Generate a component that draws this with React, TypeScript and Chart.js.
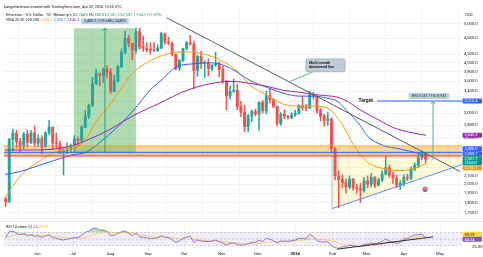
import React, { useEffect, useRef } from "react";
import { Chart, registerables } from "chart.js";
Chart.register(...registerables);

const FONT = "Roboto, 'Noto Sans', sans-serif";
const UP = "#26a69a";
const DOWN = "#ef5350";

// Day index counted from 2025-05-01; every candle spans three days.
const CANDLE_START_DAY = 4;
const CANDLE_SPAN = 3;
const FIRST_OPEN = 1840;
const CLOSES = [
  1810, 2580, 2680, 2550, 2490, 2660, 2540, 2680, 2530, 2600,
  2480, 2680, 2770, 2530, 2520, 2410, 2420, 2440, 2490, 2590,
  2570, 2770, 2950, 3140, 3550, 3760, 3720, 3850, 3800, 3400,
  3610, 3910, 4240, 4600, 4470, 4300, 4780, 4380, 4350, 4310,
  4300, 4290, 4350, 4720, 4500, 4470, 4200, 3880, 4050, 4340,
  4480, 4460, 3830, 4150, 3990, 3990, 3870, 3950, 3970, 3850,
  3600, 3310, 3400, 3420, 3120, 3020, 2780, 2950, 3030, 2990,
  3190, 3040, 3320, 3240, 3120, 2830, 2980, 2950, 2930, 2970,
  3000, 3130, 3100, 3090, 3340, 3300, 3050, 2950, 2880, 2900,
  2450, 2100, 2050, 2020, 1970, 2060, 1960, 1950, 1930, 2040,
  2000, 2080, 1990, 2050, 2120, 2200, 2110, 2070, 1990, 2010,
  2080, 2070, 2180, 2230, 2330, 2380, 2307.7,
];
const HIGHS = [
  1860, 2600, 2740, 2720, 2600, 2690, 2730, 2720, 2790, 2650,
  2640, 2700, 2880, 2770, 2680, 2560, 2450, 2530, 2520, 2640,
  2620, 2790, 3050, 3160, 3680, 3860, 3780, 3880, 3940, 3870,
  3730, 3950, 4330, 4790, 4680, 4480, 4870, 4880, 4660, 4490,
  4490, 4490, 4430, 4770, 4740, 4630, 4500, 4210, 4080, 4350,
  4520, 4680, 4530, 4180, 4270, 4050, 4090, 3960, 4250, 4020,
  3920, 3620, 3500, 3650, 3550, 3210, 3140, 2980, 3060, 3070,
  3200, 3230, 3400, 3450, 3260, 3130, 3010, 3060, 2960, 3010,
  3050, 3150, 3300, 3160, 3400, 3380, 3320, 3080, 2980, 3010,
  2920, 2470, 2160, 2110, 2060, 2100, 2070, 2000, 2010, 2080,
  2100, 2130, 2090, 2070, 2160, 2340, 2230, 2140, 2110, 2040,
  2110, 2120, 2210, 2260, 2380, 2420, 2400,
];
const LOWS = [
  1760, 1800, 2420, 2460, 2400, 2450, 2470, 2520, 2490, 2480,
  2380, 2470, 2650, 2440, 2460, 2380, 2110, 2380, 2400, 2400,
  2480, 2530, 2760, 2910, 3120, 3530, 3510, 3570, 3680, 3360,
  3390, 3580, 3900, 4200, 4380, 4070, 4220, 4320, 4270, 4250,
  4200, 4260, 4260, 4340, 4440, 4430, 4160, 3840, 3830, 4030,
  4300, 4420, 3450, 3700, 3870, 3680, 3710, 3820, 3920, 3690,
  3560, 3060, 3250, 3380, 3060, 2940, 2700, 2700, 2860, 2950,
  2720, 3000, 2990, 3180, 3090, 2790, 2800, 2910, 2900, 2910,
  2950, 2980, 3050, 3040, 3080, 3250, 3000, 2870, 2790, 2800,
  2400, 2050, 1750, 1960, 1900, 1950, 1930, 1900, 1800, 1910,
  1960, 1970, 1960, 1980, 2030, 2110, 2080, 2010, 1960, 1940,
  1980, 2040, 2050, 2160, 2200, 2300, 2260,
];
const RSI_VALUES = [
  55, 72, 75, 68, 63, 66, 60, 63, 58, 60,
  55, 60, 63, 54, 53, 49, 47, 50, 52, 55,
  54, 62, 70, 75, 82, 84, 78, 77, 74, 60,
  62, 67, 72, 75, 68, 60, 68, 57, 56, 53,
  52, 52, 54, 60, 56, 55, 48, 40, 44, 52,
  56, 58, 40, 47, 44, 43, 42, 44, 47, 42,
  38, 32, 37, 38, 34, 31, 33, 36, 40, 40,
  46, 43, 52, 50, 45, 38, 44, 44, 43, 45,
  47, 52, 52, 51, 64, 58, 45, 42, 41, 42,
  30, 24, 22, 27, 26, 32, 29, 28, 27, 35,
  34, 39, 35, 38, 43, 50, 44, 41, 37, 39,
  50, 52, 58, 62, 64, 65, 54.24,
];
const RSI_SMA = [
  55, 58, 62, 64, 65, 66, 65, 64, 63, 62,
  61, 61, 60, 59, 58, 56, 54, 53, 52, 52,
  52, 53, 55, 58, 62, 66, 69, 71, 72, 71,
  70, 70, 70, 70, 69, 67, 66, 64, 62, 60,
  58, 57, 56, 56, 55, 55, 54, 52, 51, 50,
  50, 51, 49, 48, 47, 46, 45, 45, 45, 44,
  43, 41, 40, 39, 38, 37, 36, 36, 36, 36,
  37, 38, 40, 41, 42, 42, 42, 43, 43, 44,
  45, 46, 47, 48, 50, 51, 50, 49, 48, 47,
  45, 42, 38, 35, 33, 31, 29, 28, 27, 28,
  29, 30, 31, 33, 35, 37, 39, 40, 42, 44,
  47, 49, 52, 55, 57, 58.5, 59.29,
];

// Moving averages, read at sample days
const SMA_ORANGE_DAYS = [4.5, 16.9, 33.5, 45.9, 58.3, 66.6, 72.4, 80.7, 91.5, 99.8, 110.6, 124.6, 138.7, 147, 157.8, 166.1, 176.9, 188.5, 199.2, 207.5, 221.6, 234.9, 248.9, 259.7, 271.3, 278, 284.6, 292.9, 304.5, 317.8, 331.8, 345.9, 353.5];
const SMA_ORANGE = [1850, 2092, 2287, 2405, 2446, 2501, 2616, 2876, 3145, 3420, 3782, 4044, 4205, 4252, 4252, 4229, 4135, 3977, 3761, 3516, 3326, 3162, 3127, 3127, 3092, 2974, 2797, 2515, 2274, 2187, 2163, 2200, 2250.1];
const SMA_BLUE_DAYS = [4.5, 16.9, 41.8, 60.8, 72.4, 83.2, 97.3, 110.6, 124.6, 132.9, 147, 160.3, 176.9, 193.4, 207.5, 221.6, 234.9, 248.9, 259.7, 271.3, 279.6, 287.9, 298.7, 304.5, 317.8, 331.8, 345.9, 353.5];
const SMA_BLUE = [2115, 2151, 2274, 2365, 2405, 2543, 2766, 3041, 3420, 3596, 3911, 3977, 3999, 3846, 3616, 3477, 3363, 3307, 3307, 3270, 3216, 3041, 2800, 2640, 2497, 2446, 2392, 2350.7];
const SMA_PURPLE_DAYS = [4.5, 27.7, 55.9, 72.4, 91.5, 110.6, 132.9, 155.3, 180.2, 193.4, 207.5, 221.6, 234.9, 248.9, 265.5, 279.6, 287.9, 298.7, 315.3, 326, 340.1, 353.5];
const SMA_PURPLE = [2432, 2432, 2473, 2572, 2735, 2957, 3180, 3420, 3576, 3596, 3556, 3497, 3420, 3381, 3326, 3289, 3216, 3058, 2876, 2766, 2690, 2645.3];

const MONTH_DAYS = [31, 61, 92, 123, 153, 184, 214, 245, 276, 304, 335, 365];
const MONTH_LABELS = ["Jun", "Jul", "Aug", "Sep", "Oct", "Nov", "Dec", "2026", "Feb", "Mar", "Apr", "May"];
const PRICE_TICKS = [1700, 1800, 1900, 2000, 2100, 2200, 2400, 2600, 2800, 3000, 3200, 3400, 3600, 3800, 4000, 4200, 4600, 5000];
const RSI_TICKS = [25];

const X_MIN = 3.65;
const X_MAX = 383.2;
const Y_MIN = 1664;
const Y_MAX = 5407;
const RSI_MIN = 16.7;
const RSI_MAX = 91.3;

// Drawings
const ZONE_TOP = 2490;
const ZONE_BOTTOM = 2350;
const SUPPORT = 2400;
const TRI_START = 275.5;
const TRI_LOW = 1740;
const TRI_END_VALUE = 2237;
const RALLY_START = 61.7;
const RALLY_END = 113;
const RALLY_ARROW = 87.3;
const RALLY_LOW = 2392;
const RALLY_HIGH = 4872;
const DOWN_START: [number, number] = [138.7, 5170];
const DOWN_END: [number, number] = [381.6, 2151];
const TARGET = 3216.4;
const TARGET_FROM = 312.8;
const TARGET_ARROW = 359.2;
const TARGET_BASE = 2300;
const CALLOUT_BOX = [253.9, 286.3, 4089, 3802];
const CALLOUT_TAIL: [number, number, number] = [259.7, 240.7, 3596];
const ICON_POS: [number, number] = [352.6, 1945];
const RSI_LINE_START: [number, number] = [279.6, 19.3];
const RSI_LINE_END: [number, number] = [359.2, 56.7];

const fmt = (v: number, d = 1) =>
  v.toLocaleString("en-US", { minimumFractionDigits: d, maximumFractionDigits: d });

function roundRect(ctx: any, x: number, y: number, w: number, h: number, r: number) {
  ctx.beginPath();
  ctx.moveTo(x + r, y);
  ctx.lineTo(x + w - r, y);
  ctx.quadraticCurveTo(x + w, y, x + w, y + r);
  ctx.lineTo(x + w, y + h - r);
  ctx.quadraticCurveTo(x + w, y + h, x + w - r, y + h);
  ctx.lineTo(x + r, y + h);
  ctx.quadraticCurveTo(x, y + h, x, y + h - r);
  ctx.lineTo(x, y + r);
  ctx.quadraticCurveTo(x, y, x + r, y);
  ctx.closePath();
}

function spread(items: any[]) {
  items.sort((a, b) => a.y - b.y);
  for (let it = 0; it < 60; it++) {
    for (let i = 1; i < items.length; i++) {
      const p = items[i - 1], c = items[i];
      const need = p.h / 2 + c.h / 2;
      const gap = c.y - p.y;
      if (gap < need) {
        const d = (need - gap) / 2;
        p.y -= d;
        c.y += d;
      }
    }
  }
}

function drawAxisLabels(ctx: any, items: any[], left: number) {
  spread(items);
  ctx.save();
  ctx.font = `4px ${FONT}`;
  ctx.textBaseline = "middle";
  ctx.textAlign = "left";
  for (const it of items) {
    ctx.fillStyle = it.bg;
    roundRect(ctx, left + 0.5, it.y - it.h / 2, 19.5, it.h, 1);
    ctx.fill();
    ctx.fillStyle = it.fg || "#fff";
    if (it.lines.length === 1) {
      ctx.fillText(it.lines[0], left + 2.5, it.y + 0.2);
    } else {
      ctx.fillText(it.lines[0], left + 2.5, it.y - 2);
      ctx.font = `3.4px ${FONT}`;
      ctx.fillText(it.lines[1], left + 2.5, it.y + 2.2);
      ctx.font = `4px ${FONT}`;
    }
  }
  ctx.restore();
}

function arrowUp(ctx: any, x: number, y0: number, y1: number, color: string) {
  ctx.save();
  ctx.strokeStyle = color;
  ctx.lineWidth = 1;
  ctx.beginPath();
  ctx.moveTo(x, y0);
  ctx.lineTo(x, y1);
  ctx.moveTo(x - 2.2, y1 + 2.6);
  ctx.lineTo(x, y1);
  ctx.lineTo(x + 2.2, y1 + 2.6);
  ctx.stroke();
  ctx.restore();
}

function textBox(ctx: any, cx: number, bottom: number, text: string) {
  ctx.save();
  ctx.font = `3.7px ${FONT}`;
  const w = ctx.measureText(text).width + 6;
  ctx.fillStyle = "rgba(178,198,230,0.85)";
  roundRect(ctx, cx - w / 2, bottom - 6, w, 6, 1);
  ctx.fill();
  ctx.fillStyle = "#1e2433";
  ctx.textAlign = "center";
  ctx.textBaseline = "middle";
  ctx.fillText(text, cx, bottom - 2.9);
  ctx.restore();
}

const mainPlugin = {
  id: "mainDecor",
  beforeDatasetsDraw(chart: any) {
    const { ctx, chartArea: a, scales } = chart;
    const X = (d: number) => scales.x.getPixelForValue(d);
    const Y = (p: number) => scales.y.getPixelForValue(p);
    ctx.save();
    ctx.beginPath();
    ctx.rect(a.left, a.top, a.width, a.height);
    ctx.clip();
    // resistance zone
    ctx.fillStyle = "rgba(255,152,0,0.38)";
    ctx.fillRect(a.left, Y(ZONE_TOP), a.width, Y(ZONE_BOTTOM) - Y(ZONE_TOP));
    ctx.fillStyle = "rgba(242,54,69,0.16)";
    ctx.fillRect(a.left, Y(SUPPORT), a.width, Y(ZONE_BOTTOM) - Y(SUPPORT));
    // triangle
    ctx.fillStyle = "rgba(255,235,59,0.2)";
    ctx.beginPath();
    ctx.moveTo(X(TRI_START), Y(ZONE_BOTTOM));
    ctx.lineTo(X(X_MAX), Y(ZONE_BOTTOM));
    ctx.lineTo(X(X_MAX), Y(TRI_END_VALUE));
    ctx.lineTo(X(TRI_START), Y(TRI_LOW));
    ctx.closePath();
    ctx.fill();
    // rally box
    ctx.fillStyle = "rgba(76,175,80,0.45)";
    ctx.fillRect(X(RALLY_START), Y(RALLY_HIGH), X(RALLY_END) - X(RALLY_START), Y(RALLY_LOW) - Y(RALLY_HIGH));
    ctx.restore();
  },
  afterDatasetsDraw(chart: any) {
    const { ctx, chartArea: a, scales } = chart;
    const X = (d: number) => scales.x.getPixelForValue(d);
    const Y = (p: number) => scales.y.getPixelForValue(p);
    ctx.save();
    ctx.beginPath();
    ctx.rect(a.left, a.top - 10, a.width, a.height + 10);
    ctx.clip();
    ctx.lineWidth = 1;
    // zone borders
    ctx.strokeStyle = "rgba(255,152,0,0.7)";
    ctx.beginPath();
    ctx.moveTo(a.left, Y(ZONE_TOP));
    ctx.lineTo(a.right, Y(ZONE_TOP));
    ctx.stroke();
    ctx.strokeStyle = "#f23645";
    ctx.beginPath();
    ctx.moveTo(a.left, Y(ZONE_BOTTOM));
    ctx.lineTo(a.right, Y(ZONE_BOTTOM));
    ctx.stroke();
    ctx.strokeStyle = "#2962ff";
    ctx.beginPath();
    ctx.moveTo(a.left, Y(SUPPORT));
    ctx.lineTo(a.right, Y(SUPPORT));
    ctx.stroke();
    // triangle edges
    ctx.strokeStyle = "rgba(91,141,239,0.55)";
    ctx.beginPath();
    ctx.moveTo(X(TRI_START), Y(ZONE_BOTTOM));
    ctx.lineTo(X(TRI_START), Y(TRI_LOW));
    ctx.stroke();
    ctx.strokeStyle = "#5b8def";
    ctx.beginPath();
    ctx.moveTo(X(TRI_START), Y(TRI_LOW));
    ctx.lineTo(X(X_MAX), Y(TRI_END_VALUE));
    ctx.stroke();
    // downtrend line
    ctx.strokeStyle = "#555a64";
    ctx.beginPath();
    ctx.moveTo(X(DOWN_START[0]), Y(DOWN_START[1]));
    ctx.lineTo(X(DOWN_END[0]), Y(DOWN_END[1]));
    ctx.stroke();
    // rally arrow + label
    arrowUp(ctx, X(RALLY_ARROW), Y(RALLY_LOW), Y(RALLY_HIGH), "#2e9e73");
    const rallyDiff = RALLY_HIGH - RALLY_LOW;
    textBox(ctx, X(RALLY_ARROW), Y(RALLY_HIGH) - 4,
      `${fmt(rallyDiff)} (${fmt((rallyDiff / RALLY_LOW) * 100, 2)}%) ${fmt(rallyDiff * 10, 0)}`);
    // target
    ctx.strokeStyle = "#2962ff";
    ctx.beginPath();
    ctx.moveTo(X(TARGET_FROM), Y(TARGET));
    ctx.lineTo(a.right, Y(TARGET));
    ctx.stroke();
    ctx.fillStyle = "#131722";
    ctx.font = `bold 5px ${FONT}`;
    ctx.textAlign = "right";
    ctx.textBaseline = "middle";
    ctx.fillText("Target", X(TARGET_FROM) - 4, Y(TARGET) - 0.5);
    arrowUp(ctx, X(TARGET_ARROW), Y(TARGET_BASE), Y(TARGET) + 0.5, "#4fb39a");
    textBox(ctx, X(TARGET_ARROW) - 4, Y(TARGET) - 2,
      "893.3 (37.71%) 8,933");
    // callout
    const [d0, d1, p0, p1] = CALLOUT_BOX;
    ctx.strokeStyle = "#7fb0b4";
    ctx.lineWidth = 1.2;
    ctx.beginPath();
    ctx.moveTo(X(CALLOUT_TAIL[0]), Y(p1));
    ctx.lineTo(X(CALLOUT_TAIL[1]), Y(CALLOUT_TAIL[2]));
    ctx.stroke();
    ctx.fillStyle = "#c3ccd6";
    roundRect(ctx, X(d0), Y(p0), X(d1) - X(d0), Y(p1) - Y(p0), 1.5);
    ctx.fill();
    ctx.lineWidth = 0.8;
    ctx.strokeStyle = "#8fb6bb";
    ctx.stroke();
    ctx.fillStyle = "#131722";
    ctx.font = `bold 3.8px ${FONT}`;
    ctx.textAlign = "left";
    ctx.textBaseline = "middle";
    ctx.fillText("Multi-month", X(d0) + 3, Y(p0) + 4);
    ctx.fillText("downtrend line", X(d0) + 3, Y(p0) + 8.5);
    // icon
    const ix = X(ICON_POS[0]), iy = Y(ICON_POS[1]);
    ctx.fillStyle = "#e57373";
    ctx.beginPath();
    ctx.arc(ix, iy, 2.6, 0, Math.PI * 2);
    ctx.fill();
    ctx.fillStyle = "#5c6bc0";
    ctx.beginPath();
    ctx.arc(ix, iy, 2.6, Math.PI * 0.1, Math.PI * 0.9);
    ctx.fill();
    ctx.restore();
  },
  afterDraw(chart: any) {
    const { ctx, chartArea: a, scales } = chart;
    const Y = (p: number) => scales.y.getPixelForValue(p);
    ctx.save();
    ctx.fillStyle = "#131722";
    ctx.font = `4px ${FONT}`;
    ctx.textBaseline = "middle";
    ctx.fillText("USD", a.right + 3, 15);
    ctx.restore();
    drawAxisLabels(ctx, [
      { y: Y(TARGET), h: 5, bg: "#2962ff", lines: [fmt(TARGET)] },
      { y: Y(SMA_PURPLE[SMA_PURPLE.length - 1]), h: 5, bg: "#9c27b0", lines: [fmt(SMA_PURPLE[SMA_PURPLE.length - 1])] },
      { y: Y(SUPPORT), h: 5, bg: "#2962ff", lines: [fmt(SUPPORT)] },
      { y: Y(SMA_BLUE[SMA_BLUE.length - 1]), h: 5, bg: "#2962ff", lines: [fmt(SMA_BLUE[SMA_BLUE.length - 1])] },
      { y: Y(CLOSES[CLOSES.length - 1]), h: 9, bg: "#089981", lines: [fmt(CLOSES[CLOSES.length - 1]), "13:04:51"] },
      { y: Y(SMA_ORANGE[SMA_ORANGE.length - 1]), h: 5, bg: "#ff9800", lines: [fmt(SMA_ORANGE[SMA_ORANGE.length - 1])] },
    ], a.right);
  },
};

const rsiPlugin = {
  id: "rsiDecor",
  beforeDatasetsDraw(chart: any) {
    const { ctx, chartArea: a, scales } = chart;
    const Y = (v: number) => scales.y.getPixelForValue(v);
    ctx.save();
    ctx.fillStyle = "rgba(126,87,194,0.1)";
    ctx.fillRect(a.left, Y(70), a.width, Y(30) - Y(70));
    ctx.strokeStyle = "rgba(120,123,134,0.45)";
    ctx.lineWidth = 0.7;
    ctx.setLineDash([2, 2]);
    for (const v of [70, 50, 30]) {
      ctx.beginPath();
      ctx.moveTo(a.left, Y(v));
      ctx.lineTo(a.right, Y(v));
      ctx.stroke();
    }
    ctx.restore();
  },
  afterDatasetsDraw(chart: any) {
    const { ctx, scales } = chart;
    const X = (d: number) => scales.x.getPixelForValue(d);
    const Y = (v: number) => scales.y.getPixelForValue(v);
    ctx.save();
    ctx.strokeStyle = "#2a2e39";
    ctx.lineWidth = 1;
    ctx.beginPath();
    ctx.moveTo(X(RSI_LINE_START[0]), Y(RSI_LINE_START[1]));
    ctx.lineTo(X(RSI_LINE_END[0]), Y(RSI_LINE_END[1]));
    ctx.stroke();
    ctx.restore();
  },
  afterDraw(chart: any) {
    const { ctx, chartArea: a, scales } = chart;
    const Y = (v: number) => scales.y.getPixelForValue(v);
    ctx.save();
    ctx.strokeStyle = "#e0e3eb";
    ctx.lineWidth = 1;
    ctx.beginPath();
    ctx.moveTo(0, 0.5);
    ctx.lineTo(chart.width, 0.5);
    ctx.stroke();
    ctx.restore();
    const last = RSI_VALUES[RSI_VALUES.length - 1];
    const lastMa = RSI_SMA[RSI_SMA.length - 1];
    drawAxisLabels(ctx, [
      { y: Y(lastMa), h: 5, bg: "#fdd835", fg: "#131722", lines: [fmt(lastMa, 2)] },
      { y: Y(last), h: 5, bg: "#7e57c2", lines: [fmt(last, 2)] },
    ], a.right);
  },
};

export default function App() {
  const mainRef = useRef<HTMLCanvasElement>(null);
  const rsiRef = useRef<HTMLCanvasElement>(null);

  useEffect(() => {
    const candles = CLOSES.map((c, i) => ({
      x: CANDLE_START_DAY + CANDLE_SPAN * i + 1,
      o: i === 0 ? FIRST_OPEN : CLOSES[i - 1],
      h: HIGHS[i],
      l: LOWS[i],
      c,
    }));
    const colors = candles.map((k) => (k.c >= k.o ? UP : DOWN));
    const pts = (days: number[], vals: number[]) => days.map((d, i) => ({ x: d, y: vals[i] }));
    const monthTicks = (axis: any) => {
      axis.ticks = MONTH_DAYS.map((v) => ({ value: v }));
    };
    const grid = { color: "#f0f3fa", lineWidth: 1, drawTicks: false };

    const main = new Chart(mainRef.current as HTMLCanvasElement, {
      type: "bar",
      data: {
        datasets: [
          { type: "line", data: pts(SMA_PURPLE_DAYS, SMA_PURPLE), borderColor: "#9c27b0", borderWidth: 1, pointRadius: 0, cubicInterpolationMode: "monotone", order: 1 } as any,
          { type: "line", data: pts(SMA_BLUE_DAYS, SMA_BLUE), borderColor: "#2962ff", borderWidth: 1, pointRadius: 0, cubicInterpolationMode: "monotone", order: 1 } as any,
          { type: "line", data: pts(SMA_ORANGE_DAYS, SMA_ORANGE), borderColor: "#ff9800", borderWidth: 1, pointRadius: 0, cubicInterpolationMode: "monotone", order: 1 } as any,
          { type: "bar", data: candles.map((k) => ({ x: k.x, y: [k.l, k.h] })), backgroundColor: colors, barThickness: 0.9, grouped: false, order: 5 } as any,
          { type: "bar", data: candles.map((k) => ({ x: k.x, y: [k.o, k.c] })), backgroundColor: colors, barThickness: 2.3, minBarLength: 0.8, grouped: false, order: 4 } as any,
        ],
      },
      options: {
        responsive: false,
        animation: false,
        devicePixelRatio: 1,
        events: [],
        layout: { padding: { top: 10, left: 4, right: 0, bottom: 0 } },
        plugins: { legend: { display: false }, tooltip: { enabled: false } },
        scales: {
          x: {
            type: "linear", min: X_MIN, max: X_MAX, offset: false,
            grid, border: { display: false },
            ticks: { display: false, autoSkip: false },
            afterBuildTicks: monthTicks,
            afterFit: (axis: any) => { axis.height = 0; },
          },
          y: {
            type: "logarithmic", position: "right", min: Y_MIN, max: Y_MAX,
            grid, border: { display: false },
            ticks: {
              autoSkip: false, padding: 2, color: "#131722",
              font: { family: FONT, size: 4.2 },
              callback: (v: any) => fmt(Number(v)),
            },
            afterBuildTicks: (axis: any) => { axis.ticks = PRICE_TICKS.map((v) => ({ value: v })); },
            afterFit: (axis: any) => { axis.width = 21; },
          },
        },
      } as any,
      plugins: [mainPlugin],
    });

    const rsi = new Chart(rsiRef.current as HTMLCanvasElement, {
      type: "line",
      data: {
        datasets: [
          {
            data: candles.map((k, i) => ({ x: k.x, y: RSI_VALUES[i] })),
            borderColor: "#7e57c2", borderWidth: 0.8, pointRadius: 0,
            fill: { target: { value: 70 }, above: "rgba(76,175,80,0.4)", below: "rgba(0,0,0,0)" },
          },
          {
            data: candles.map((k, i) => ({ x: k.x, y: RSI_SMA[i] })),
            borderColor: "#f9c74f", borderWidth: 0.8, pointRadius: 0, cubicInterpolationMode: "monotone",
          },
        ],
      } as any,
      options: {
        responsive: false,
        animation: false,
        devicePixelRatio: 1,
        events: [],
        layout: { padding: { top: 1, left: 4, right: 0, bottom: 0 } },
        plugins: { legend: { display: false }, tooltip: { enabled: false } },
        scales: {
          x: {
            type: "linear", min: X_MIN, max: X_MAX, offset: false,
            grid, border: { display: false },
            ticks: {
              autoSkip: false, maxRotation: 0, padding: 1.5, color: "#131722",
              font: (c: any) => ({ family: FONT, size: 4.2, weight: c.tick && c.tick.value === 245 ? "bold" : "normal" }),
              callback: (_v: any, i: number) => MONTH_LABELS[i],
            },
            afterBuildTicks: monthTicks,
            afterFit: (axis: any) => { axis.height = 7; },
          },
          y: {
            type: "linear", position: "right", min: RSI_MIN, max: RSI_MAX,
            grid: { display: false }, border: { display: false },
            ticks: {
              autoSkip: false, padding: 2, color: "#131722",
              font: { family: FONT, size: 4.2 },
              callback: (v: any) => fmt(Number(v), 2),
            },
            afterBuildTicks: (axis: any) => { axis.ticks = RSI_TICKS.map((v) => ({ value: v })); },
            afterFit: (axis: any) => { axis.width = 21; },
          },
        },
      } as any,
      plugins: [rsiPlugin],
    });

    return () => {
      main.destroy();
      rsi.destroy();
    };
  }, []);

  const small: React.CSSProperties = {
    position: "absolute", left: 4, fontFamily: FONT, fontSize: 3.8, lineHeight: "4px",
    whiteSpace: "nowrap", color: "#131722",
  };
  const g = { color: "#089981" };
  return (
    <div style={{ position: "fixed", left: 0, top: 0, width: 483, height: 257, background: "#fff", overflow: "hidden" }}>
      <canvas ref={mainRef} width={483} height={221} style={{ position: "absolute", left: 0, top: 0 }} />
      <canvas ref={rsiRef} width={483} height={36} style={{ position: "absolute", left: 0, top: 221 }} />
      <div style={{ ...small, top: 5 }}>kangchatsbais created with TradingView.com, Apr 20, 2026 10:55 UTC</div>
      <div style={{ ...small, left: 6, top: 13 }}>
        Ethereum / U.S. Dollar · 1D · Bitstamp{" "}
        <span style={g}>● </span>O<span style={g}>2,284.0</span> H<span style={g}>2,300.0</span> L
        <span style={g}>2,281.2</span> C<span style={g}>2,307.7</span> <span style={g}>+24.1 (+1.07%)</span>
      </div>
      <div style={{ ...small, left: 6, top: 18 }}>
        SMA 20 50 100 200{"  "}
        <span style={{ color: "#ff9800" }}>2,250.1</span>{" "}
        <span style={{ color: "#2962ff" }}>2,350.7</span>{" "}
        <span style={{ color: "#9c27b0" }}>2,645.3</span>
      </div>
      <div style={{ ...small, left: 6, top: 225 }}>
        RSI 14 close <span style={{ color: "#7e57c2" }}>54.24</span>{" "}
        <span style={{ color: "#e6b800" }}>59.29</span>
      </div>
    </div>
  );
}
